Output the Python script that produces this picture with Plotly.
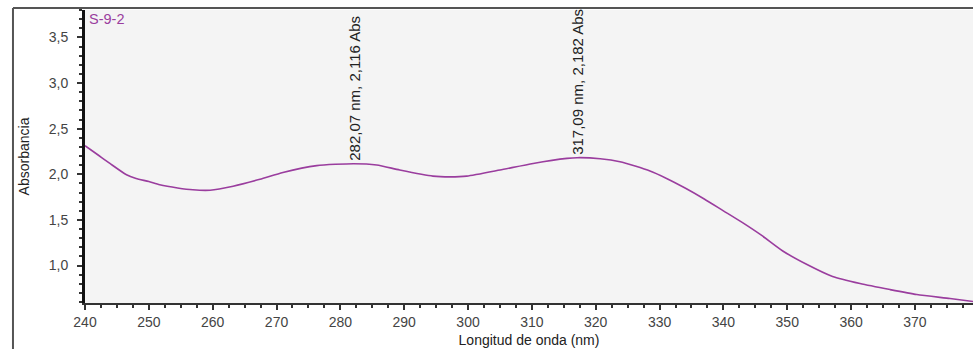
import plotly.graph_objects as go

# Wavelength (nm) and absorbance
wavelength = [240.0, 242.0, 243.9, 246.5, 248.0, 250.0, 251.7, 254.5, 256.9, 259.6,
              263.2, 267.4, 271.0, 276.3, 282.07, 285.7, 289.3, 294.5, 297.2, 299.8,
              305.0, 310.2, 315.5, 317.09, 320.7, 323.8, 328.5, 331.1, 334.0, 337.0,
              340.0, 343.0, 346.0, 349.3, 353.1, 357.1, 361.4, 366.1, 370.3, 375.5, 379.1]
absorbance = [2.313, 2.214, 2.119, 1.995, 1.955, 1.920, 1.885, 1.850, 1.830, 1.826,
              1.870, 1.945, 2.020, 2.095, 2.116, 2.102, 2.047, 1.980, 1.972, 1.980,
              2.047, 2.119, 2.174, 2.182, 2.171, 2.138, 2.036, 1.955, 1.850, 1.730,
              1.600, 1.470, 1.330, 1.160, 1.011, 0.880, 0.803, 0.737, 0.683, 0.639, 0.606]

peak_x = [282.07, 317.09]
peak_y = [2.116, 2.182]
peak_labels = ["282,07 nm, 2,116 Abs", "317,09 nm, 2,182 Abs"]

sample_name = "S-9-2"
x_title = "Longitud de onda (nm)"
y_title = "Absorbancia"

line_color = "#9a3d9e"
font_family = "Liberation Sans, Arial, sans-serif"

fig = go.Figure()
fig.add_trace(go.Scatter(
    x=wavelength, y=absorbance, mode="lines",
    line=dict(color=line_color, width=1.6, shape="spline", smoothing=0.6),
    showlegend=False, hoverinfo="x+y",
))

annotations = []
for px, py, txt in zip(peak_x, peak_y, peak_labels):
    annotations.append(dict(
        x=px, y=py, xref="x", yref="y", text=txt, showarrow=False,
        textangle=-90, xanchor="center", yanchor="bottom", yshift=1, xshift=1,
        font=dict(family=font_family, size=15, color="#222222"),
    ))
annotations.append(dict(
    x=0.002, y=1.004, xref="paper", yref="paper", text=sample_name, showarrow=False,
    xanchor="left", yanchor="top",
    font=dict(family=font_family, size=14.5, color=line_color),
))

shapes = [
    dict(type="line", xref="paper", yref="paper", x0=-0.0811, x1=1.0, y0=1.0068, y1=1.0068,
         line=dict(color="#555555", width=2)),
    dict(type="line", xref="paper", yref="paper", x0=-0.0811, x1=-0.0811, y0=1.0068, y1=-0.16,
         line=dict(color="#555555", width=2)),
]

fig.update_layout(
    width=973, height=349,
    margin=dict(l=85, r=0, t=10, b=46),
    paper_bgcolor="white", plot_bgcolor="#f4f4f4",
    separators=",.",
    font=dict(family=font_family, size=14, color="#444444"),
    annotations=annotations, shapes=shapes,
    showlegend=False,
)
fig.update_xaxes(
    range=[240, 379.1], tick0=240, dtick=10, showgrid=False, zeroline=False,
    showline=True, linecolor="#333333", linewidth=2,
    ticks="outside", ticklen=5, tickcolor="#333333", tickwidth=1.5,
    minor=dict(dtick=2.5, ticks="outside", ticklen=3, tickcolor="#333333", showgrid=False),
    tickfont=dict(size=14, color="#444444"),
    title=dict(text=x_title, standoff=6, font=dict(size=14, color="#222222")),
)
fig.update_yaxes(
    range=[0.59, 3.8], tick0=0, dtick=0.5, tickformat=".1f", showgrid=False, zeroline=False,
    showline=True, linecolor="#111111", linewidth=3,
    ticks="outside", ticklen=5, tickcolor="#333333", tickwidth=1.5,
    ticklabelstandoff=6,
    minor=dict(dtick=0.1, ticks="outside", ticklen=3, tickcolor="#333333", showgrid=False),
    tickfont=dict(size=14, color="#444444"),
    title=dict(text=y_title, standoff=16, font=dict(size=14, color="#222222")),
)

fig.write_html("out.html")
